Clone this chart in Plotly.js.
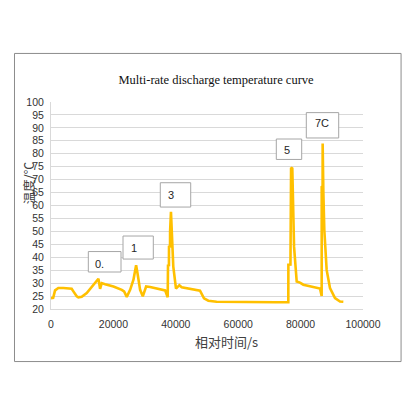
<!DOCTYPE html>
<html>
<head>
<meta charset="utf-8">
<script src="https://cdn.plot.ly/plotly-3.0.1.min.js"></script>
<style>html,body{margin:0;padding:0;background:#fff;}#chart{width:416px;height:416px;}</style>
</head>
<body>
<div id="chart"></div>
<script>
// Relative time (s)
var time_s = [0, 700, 1300, 2350, 3950, 6630, 7170, 8240, 8780, 9850, 11450, 14660, 15200, 15730, 16270, 17340, 20010, 22680, 23430, 24290, 25360, 26430, 27280, 27710, 28560, 29420, 30490, 31770, 36580, 37400, 37500, 37800, 37820, 38150, 38170, 38450, 38800, 39200, 40060, 41130, 41880, 46690, 47760, 49040, 50430, 53100, 57370, 65000, 72000, 76060, 76080, 76750, 76770, 76950, 77340, 77900, 78750, 79800, 80870, 83010, 85680, 86220, 86750, 86770, 87050, 87070, 87300, 87600, 88350, 89420, 91030, 92630, 93700];
// Temperature (°C)
var temp_c = [24.2, 24.3, 27.2, 28.1, 28.1, 27.8, 26.8, 24.9, 24.5, 24.7, 26.2, 31.3, 31.7, 27.8, 30.0, 29.6, 28.7, 27.4, 26.8, 24.7, 27.4, 31.3, 36.9, 33.9, 27.4, 24.9, 28.7, 28.5, 27.2, 24.5, 36.8, 36.9, 44.1, 44.2, 49.9, 57.6, 49.9, 36.4, 27.9, 29.2, 28.4, 27.5, 27.1, 24.1, 23.2, 22.8, 22.7, 22.6, 22.6, 22.6, 37.1, 37.2, 60.2, 74.6, 74.3, 44.1, 30.6, 30.2, 29.4, 28.8, 28.3, 27.9, 25.0, 67.2, 67.4, 84.0, 64.7, 50.6, 35.1, 28.1, 24.2, 22.9, 22.8];
// Rate labels
var label_text = ["0.", "1", "3", "5", "7C"];
var label_x = [15700, 26700, 38460, 75640, 86860];
var label_y = [37.5, 43.7, 64.0, 81.4, 91.7];
var box_x0 = [11960, 23080, 35030, 72210, 81830];
var box_x1 = [22440, 32790, 44780, 80350, 92210];
var box_y0 = [34.3, 39.3, 59.4, 77.8, 86.1];
var box_y1 = [42.2, 48.2, 68.8, 85.7, 95.9];

var trace = {
  x: time_s, y: temp_c, type: 'scatter', mode: 'lines',
  line: {color: '#FFC000', width: 2.6},
  hoverinfo: 'skip'
};

var shapes = [{
  type: 'rect', xref: 'paper', yref: 'paper',
  x0: -0.117, x1: 1.122, y0: -0.2539, y1: 1.2346,
  line: {color: '#8c8c8c', width: 1}, fillcolor: 'rgba(0,0,0,0)', layer: 'below'
}];
var annotations = [];
for (var i = 0; i < label_text.length; i++) {
  shapes.push({
    type: 'rect', xref: 'x', yref: 'y',
    x0: box_x0[i], x1: box_x1[i], y0: box_y0[i], y1: box_y1[i],
    line: {color: '#a6a6a6', width: 1}, fillcolor: '#ffffff', layer: 'above'
  });
  annotations.push({
    xref: 'x', yref: 'y', x: label_x[i], y: label_y[i],
    text: label_text[i], showarrow: false, xanchor: 'center', yanchor: 'middle',
    font: {family: 'Liberation Sans, Arial, sans-serif', size: 11, color: '#262626'}
  });
}
annotations.push({
  xref: 'paper', yref: 'paper', x: -0.0737, y: 0.608,
  text: '温度/℃', textangle: -90, showarrow: false, xanchor: 'center', yanchor: 'middle',
  font: {family: 'Noto Sans CJK SC, sans-serif', size: 12.5, color: '#404040'}
});
annotations.push({
  xref: 'paper', yref: 'paper', x: 0.563, y: -0.156,
  text: '相对时间/s', showarrow: false, xanchor: 'center', yanchor: 'middle',
  font: {family: 'Noto Sans CJK SC, sans-serif', size: 13, color: '#404040'}
});

var layout = {
  width: 416, height: 416,
  margin: {l: 51, r: 53, t: 102, b: 107},
  paper_bgcolor: '#ffffff', plot_bgcolor: '#ffffff',
  font: {color: '#262626', family: 'Liberation Sans, Arial, sans-serif'},
  showlegend: false,
  title: {
    text: 'Multi-rate discharge temperature curve',
    x: 0.529, xanchor: 'center', xref: 'paper',
    y: 0.808, yanchor: 'middle', yref: 'container',
    font: {family: 'Liberation Serif, serif', size: 12.5, color: '#111111'}
  },
  xaxis: {
    range: [0, 100000], tickvals: [0, 20000, 40000, 60000, 80000, 100000],
    tickformat: 'd', showgrid: false, zeroline: false,
    showline: true, linecolor: '#d9d9d9', linewidth: 1,
    ticks: '', ticklabelstandoff: 5,
    tickfont: {family: 'Liberation Sans, Arial, sans-serif', size: 10.5, color: '#333333'}
  },
  yaxis: {
    range: [20, 100], dtick: 5, tick0: 20,
    showgrid: true, gridcolor: '#d9d9d9', gridwidth: 1, zeroline: false,
    showline: true, linecolor: '#d9d9d9', linewidth: 1,
    ticks: '', ticklabelstandoff: 4,
    tickfont: {family: 'Liberation Sans, Arial, sans-serif', size: 10.5, color: '#333333'}
  },
  shapes: shapes,
  annotations: annotations
};

Plotly.newPlot('chart', [trace], layout, {displayModeBar: false, staticPlot: true});
</script>
</body>
</html>
